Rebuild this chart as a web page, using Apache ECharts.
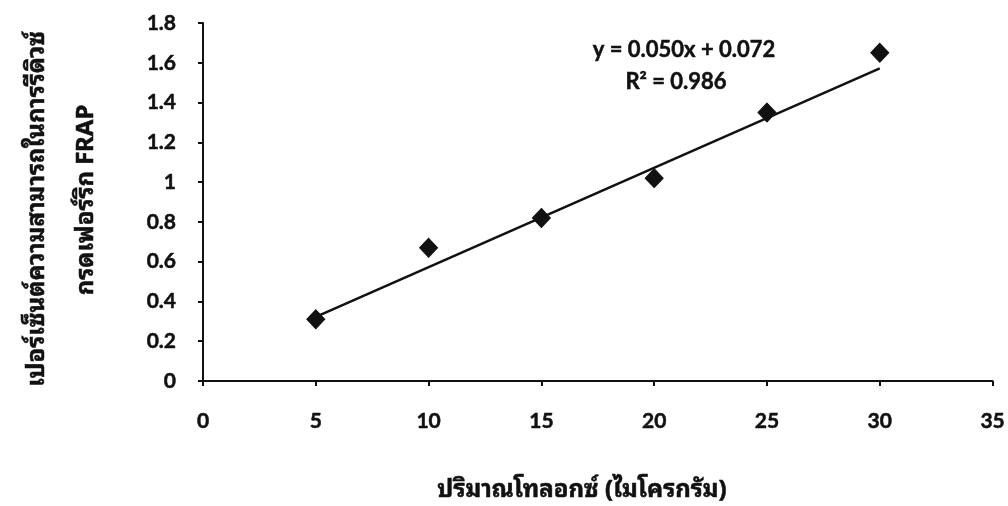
<!DOCTYPE html>
<html>
<head>
<meta charset="utf-8">
<script src="https://cdn.jsdelivr.net/npm/echarts@6/dist/echarts.min.js"></script>
<style>
  html, body { margin: 0; padding: 0; background: #ffffff; }
  #chart { width: 1008px; height: 506px; }
</style>
</head>
<body>
<div id="chart"></div>
<script>
// Tolox amount (µg) vs. FRAP ferric-reducing ability (%)
const doses = [5, 10, 15, 20, 25, 30];
const frapValues = [0.31, 0.67, 0.82, 1.02, 1.35, 1.65];
const xTicks = [0, 5, 10, 15, 20, 25, 30, 35];
const yTicks = [0, 0.2, 0.4, 0.6, 0.8, 1, 1.2, 1.4, 1.6, 1.8];

// Linear trendline as printed on the chart
const slope = 0.050;
const intercept = 0.072;
const rSquared = 0.986;

const xTitle = 'ปริมาณโทลอกซ์ (ไมโครกรัม)';
const yTitleLine1 = 'เปอร์เซ็นต์ความสามารถในการรีดิวซ์';
const yTitleLine2 = 'กรดเฟอร์ริก FRAP';

const thaiFont = '"Noto Sans Thai Looped", "Noto Serif Thai", "Noto Sans Thai", Garuda, Loma, Norasi, Kinnari, "Noto Sans", sans-serif';
const numFont = 'Lato, "Open Sans", sans-serif';
const ink = '#111';

const scatterData = doses.map((x, i) => [x, frapValues[i]]);
const trendX = [doses[0], doses[doses.length - 1]];
const trendData = trendX.map(x => [x, slope * x + intercept]);

const chart = echarts.init(document.getElementById('chart'), null, { renderer: 'canvas' });

const axisLineStyle = { color: ink, width: 2 };
const tickLabel = {
  color: ink, fontFamily: numFont, fontWeight: 'bold', fontSize: 21,
  textBorderColor: ink, textBorderWidth: 0.5
};

function textEl(x, y, text, font, rotation) {
  return {
    type: 'text', x: x, y: y, rotation: rotation || 0,
    style: {
      text: text, fill: ink, font: font,
      stroke: ink, lineWidth: 0.5,
      align: 'center', verticalAlign: 'middle'
    }
  };
}

chart.setOption({
  animation: false,
  backgroundColor: '#ffffff',
  grid: { left: 203, right: 15, top: 23, bottom: 125, containLabel: false },
  xAxis: {
    type: 'value',
    min: xTicks[0],
    max: xTicks[xTicks.length - 1],
    interval: xTicks[1] - xTicks[0],
    splitLine: { show: false },
    axisLine: { show: true, onZero: false, lineStyle: axisLineStyle },
    axisTick: { show: true, inside: false, length: 5, lineStyle: axisLineStyle },
    axisLabel: Object.assign({ margin: 30 }, tickLabel)
  },
  yAxis: {
    type: 'value',
    min: yTicks[0],
    max: yTicks[yTicks.length - 1],
    interval: 0.2,
    splitLine: { show: false },
    axisLine: { show: true, onZero: false, lineStyle: axisLineStyle },
    axisTick: { show: true, inside: false, length: 5, lineStyle: axisLineStyle },
    axisLabel: Object.assign({ margin: 27 }, tickLabel)
  },
  graphic: [
    textEl(37, 209, yTitleLine1, 'bold 24px ' + thaiFont, Math.PI / 2),
    textEl(86, 200, yTitleLine2, 'bold 24px ' + thaiFont, Math.PI / 2),
    textEl(582, 490, xTitle, 'bold 24px ' + thaiFont),
    textEl(684, 50, 'y = ' + slope.toFixed(3) + 'x + ' + intercept.toFixed(3), 'bold 22px ' + numFont),
    textEl(676, 82, 'R² = ' + rSquared.toFixed(3), 'bold 22px ' + numFont)
  ],
  series: [
    {
      type: 'line',
      data: trendData,
      symbol: 'none',
      lineStyle: { color: ink, width: 2.5 },
      z: 2
    },
    {
      type: 'scatter',
      data: scatterData,
      symbol: 'diamond',
      symbolSize: [18, 19],
      itemStyle: { color: ink, borderColor: ink, borderWidth: 1, opacity: 1 },
      z: 3
    }
  ]
});
</script>
</body>
</html>
